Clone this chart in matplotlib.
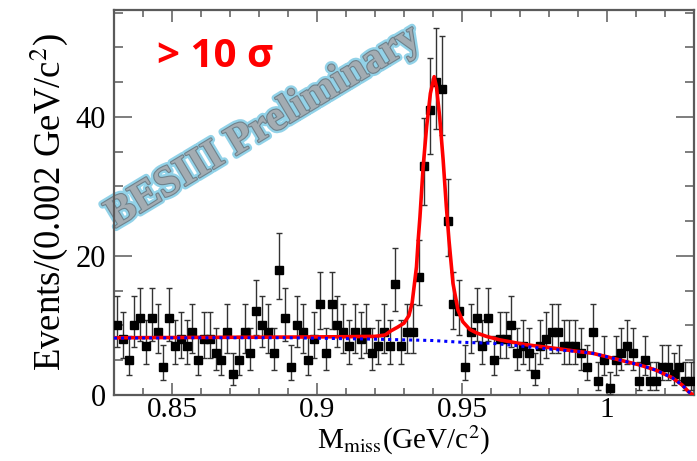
import numpy as np
import matplotlib
matplotlib.use("Agg")
import matplotlib.pyplot as plt
import matplotlib.patheffects as pe
from matplotlib.ticker import MultipleLocator

# histogram: 100 bins of 0.002 GeV/c^2 starting at 0.83
bin_lo = 0.83
bin_width = 0.002
counts = [10, 8, 5, 10, 11, 7, 11, 9, 4, 11, 7, 8, 7, 9, 5, 8, 8, 6, 5, 9, 3,
          5, 9, 6, 12, 10, 9, 6, 18, 11, 4, 10, 9, 5, 8, 13, 6, 13, 10, 9,
          7, 9, 8, 9, 6, 7, 9, 7, 16, 7, 9, 9, 17,
          33, 41, 45, 44, 25, 13, 12, 4, 9, 11, 7, 11, 5,
          8, 8, 10, 6, 7, 6, 3, 7, 8, 9, 9, 7, 7, 7, 6, 4, 9,
          2, 5, 1, 5, 6, 7, 6, 2, 5, 2, 2, 4, 4, 3, 4, 2, 2]

# total fit (red)
fit_x = [0.830, 0.860, 0.890, 0.910, 0.920, 0.9235, 0.9255, 0.9277, 0.9300,
         0.9317, 0.9328, 0.9343, 0.9349, 0.9355, 0.9366, 0.9378, 0.9391,
         0.9404, 0.9412, 0.9423, 0.9435, 0.9446, 0.9455, 0.9469, 0.9486,
         0.9503, 0.9527, 0.9550, 0.9584, 0.9630, 0.9721, 0.9836, 0.9904,
         0.9952, 0.9996, 1.0053, 1.0111, 1.0168, 1.0225, 1.0259, 1.0282, 1.0296]
fit_y = [8.2, 8.25, 8.3, 8.35, 8.4, 8.6, 9.2, 9.7, 10.3,
         11.4, 13.2, 18.4, 22.3, 25.6, 32.8, 38.6, 43.4,
         45.8, 44.3, 40.0, 33.8, 27.1, 22.3, 16.0, 12.2,
         10.5, 9.4, 8.9, 8.4, 7.9, 7.2, 6.6, 6.2,
         5.95, 5.5, 4.9, 4.3, 3.55, 2.45, 1.4, 0.4, 0.0]

# background component (blue dotted)
bkg_x = [0.830, 0.860, 0.890, 0.920, 0.940, 0.9499, 0.9605, 0.9703, 0.9818,
         0.9904, 0.9952, 0.9996, 1.0053, 1.0111, 1.0168, 1.0225, 1.0259,
         1.0282, 1.0296]
bkg_y = [8.15, 8.2, 8.2, 8.0, 7.8, 7.55, 7.4, 7.0, 6.5,
         6.2, 5.95, 5.5, 4.9, 4.3, 3.55, 2.45, 1.4,
         0.4, 0.0]

n = np.array(counts, dtype=float)
x = bin_lo + bin_width * (np.arange(len(n)) + 0.5)
# asymmetric Poisson errors (Gehrels approximation, 1 sigma)
err_hi = np.sqrt(n + 0.75) + 1.0
err_lo = n - n * (1 - 1 / (9 * n) - 1 / (3 * np.sqrt(n))) ** 3

plt.rcParams['font.family'] = ['Liberation Serif', 'DejaVu Serif']
plt.rcParams['mathtext.fontset'] = 'stix'

fig = plt.figure(figsize=(6.97, 4.61), dpi=100)
ax = fig.add_axes([114 / 697, 1 - 394.7 / 461, 580 / 697, 384.7 / 461])

ax.errorbar(x, n, yerr=[err_lo, err_hi], fmt='s', color='black', ms=5.5,
            ecolor='#333333', elinewidth=1.0, capsize=2.5, capthick=1.0, zorder=3)
ax.plot(fit_x, fit_y, color='red', lw=2.6, solid_joinstyle='round', zorder=4)
ax.plot(bkg_x, bkg_y, color='blue', lw=2.2, ls=(0, (1, 1.3)), zorder=5)

ax.set_xlim(0.83, 1.03)
ax.set_ylim(0, 55.4)
ax.xaxis.set_major_locator(MultipleLocator(0.05))
ax.xaxis.set_minor_locator(MultipleLocator(0.01))
ax.yaxis.set_major_locator(MultipleLocator(20))
ax.yaxis.set_minor_locator(MultipleLocator(5))
ax.set_xticks([0.85, 0.9, 0.95, 1.0])
ax.set_xticklabels(['0.85', '0.9', '0.95', '1'])

frame_col = '#5a5a5a'
for s in ax.spines.values():
    s.set_color(frame_col)
    s.set_linewidth(1.6)
ax.tick_params(which='both', direction='in', top=True, right=True,
               color=frame_col, width=1.1, labelsize=22, pad=6)
ax.tick_params(axis='x', pad=2, labelsize=21)
ax.tick_params(axis='x', which='major', length=8.5)
ax.tick_params(axis='x', which='minor', length=5)
ax.tick_params(axis='y', which='major', length=13)
ax.tick_params(axis='y', which='minor', length=6.5)

ax.set_xlabel(r'M$_{\rm miss}$(GeV/c$^2$)', fontsize=21, labelpad=0)
ax.set_ylabel(r'Events/(0.002 GeV/c$^2$)', fontsize=26.5, labelpad=4)

ax.text(0.174, 0.88, '> 10 σ', transform=ax.transAxes, color='red',
        fontsize=29, fontweight='bold', family=['Open Sans', 'DejaVu Sans'],
        ha='center', va='center')

ax.text(0.258, 0.695, 'BESIII Preliminary', transform=ax.transAxes,
        rotation=31, fontsize=30.5, fontweight='bold', color='#a3acb2',
        ha='center', va='center', rotation_mode='anchor', zorder=2,
        path_effects=[pe.Stroke(linewidth=5, foreground='#92d2e8'),
                      pe.Stroke(linewidth=1.6, foreground='#6f828c'),
                      pe.Normal()])

fig.savefig('out.png', dpi=100)
